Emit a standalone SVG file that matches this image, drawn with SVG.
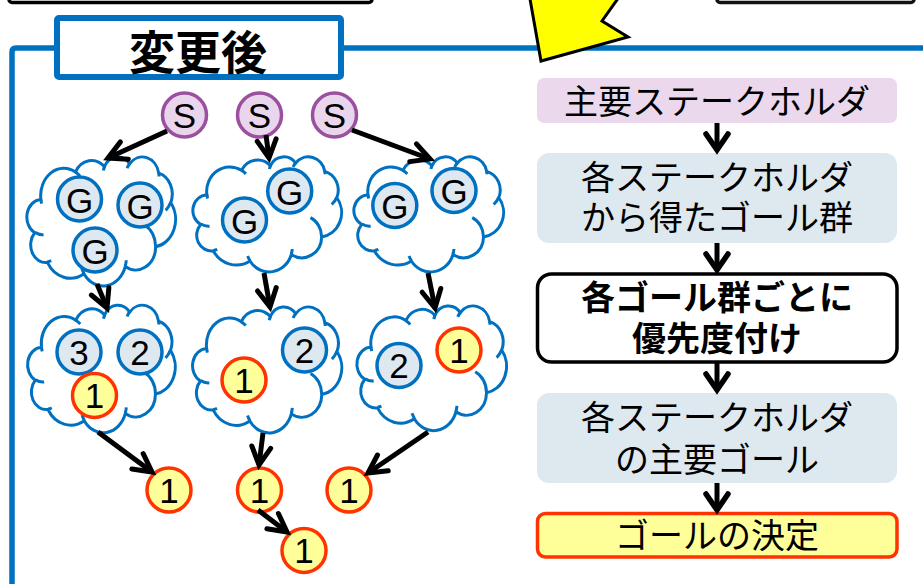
<svg xmlns="http://www.w3.org/2000/svg" width="923" height="584" viewBox="0 0 923 584">
<style>
.cl{fill:#fff;stroke:#0070C0;stroke-width:3;vector-effect:non-scaling-stroke}
.hk{fill:none;stroke:#0070C0;stroke-width:3;vector-effect:non-scaling-stroke}
.g{fill:#DEE8F0;stroke:#0070C0;stroke-width:3.5}
.y{fill:#FFFF99;stroke:#FF3300;stroke-width:3.5}
.s{fill:#EAD6EC;stroke:#9B4F9F;stroke-width:3.5}
.lbl{font-family:"Liberation Sans",Arial,sans-serif;font-size:35px;text-anchor:middle;fill:#000}
.jp{font-family:"Liberation Sans","Noto Sans CJK JP","Noto Sans CJK SC",sans-serif;font-size:34px;text-anchor:middle;fill:#000}
.con line{stroke:#000;stroke-width:5;fill:none}
</style>
<defs>
<g id="cloud">
<path class="cl" d="M 90.3 332.6 A 156.3 212.7 0 0 1 324.2 120.4 A 123.5 168.2 0 0 1 519.8 79.4 A 101.0 137.6 0 0 1 690.5 57.4 A 112.4 152.7 0 0 1 886.9 129.0 A 123.5 168.4 0 0 1 968.0 357.8 A 156.8 213.4 0 0 1 865.8 699.1 A 133.9 182.1 0 0 1 660.9 852.1 A 156.3 213.3 0 0 1 381.4 908.8 A 178.7 244.1 0 0 1 134.3 821.0 A 100.9 137.0 0 0 1 48.8 591.3 A 100.6 137.6 0 0 1 90.3 332.6 Z"/>
<path class="hk" d="M 108.6 605.9 A 100.6 137.6 0 0 1 50.0 587.5 M 160.4 807.8 A 100.9 137.0 0 0 1 134.7 816.7 M 381.4 904.9 A 156.3 213.3 0 0 1 366.0 864.6 M 667.3 804.4 A 156.3 213.3 0 0 1 661.1 848.6 M 790.0 531.3 A 133.9 182.1 0 0 1 865.3 696.5 M 967.5 355.4 A 123.5 168.4 0 0 1 934.0 417.4 M 887.1 125.6 A 112.4 152.7 0 0 1 888.9 154.9 M 673.1 91.5 A 112.4 152.7 0 0 1 690.3 54.2 M 512.5 109.3 A 101.0 137.6 0 0 1 520.8 77.1 M 324.1 120.2 A 156.3 212.7 0 0 1 354.2 151.4 M 95.5 365.5 A 156.3 212.7 0 0 1 90.3 332.6"/>
</g>
<marker id="arr" markerUnits="userSpaceOnUse" viewBox="-24 -14 30 28" markerWidth="30" markerHeight="28" refX="0" refY="0" orient="auto" overflow="visible">
<path d="M -18 -9.5 L 0 0 L -18 9.5" fill="none" stroke="#000" stroke-width="5" stroke-linecap="round"/>
</marker>
<marker id="arr2" markerUnits="userSpaceOnUse" viewBox="-24 -16 30 32" markerWidth="30" markerHeight="32" refX="0" refY="0" orient="auto" overflow="visible">
<path d="M -16 -11 L 0 0 L -16 11" fill="none" stroke="#000" stroke-width="5.5" stroke-linecap="round"/>
</marker>
</defs>

<!-- top cut-off boxes -->
<rect x="9" y="-30" width="363" height="32.5" rx="3" fill="#fff" stroke="#000" stroke-width="3.5"/>
<rect x="717" y="-30" width="197" height="32.5" rx="3" fill="#fff" stroke="#111" stroke-width="3.5"/>

<!-- frame -->
<g id="frame">
<path d="M 12 584 L 12 52 Q 12 48 16 48 L 58 48" fill="none" stroke="#0070C0" stroke-width="5.5"/>
<path d="M 342 48 L 923 48" fill="none" stroke="#0070C0" stroke-width="5.5"/>
<rect x="57" y="18" width="284" height="59" rx="2" fill="#fff" stroke="#0070C0" stroke-width="6"/>
<text x="198" y="69" font-family="'Noto Sans CJK JP','Noto Sans CJK SC',sans-serif" font-size="46" font-weight="bold" text-anchor="middle">変更後</text>
</g>

<polygon id="bigArrow" points="528.4,-10 541,61 628,37 602,21 624,-10" fill="#FFFF00" stroke="#000" stroke-width="3" stroke-linejoin="miter"/>

<!-- stakeholders -->
<g id="s1"><circle class="s" cx="184.5" cy="115" r="22"/><text class="lbl" x="184.5" y="128" font-size="36">S</text></g>
<g id="s2"><circle class="s" cx="259.5" cy="115" r="22"/><text class="lbl" x="259.5" y="128" font-size="36">S</text></g>
<g id="s3"><circle class="s" cx="334.5" cy="115" r="22"/><text class="lbl" x="334.5" y="128" font-size="36">S</text></g>

<!-- goal clouds -->
<g id="cloud1">
<use href="#cloud" transform="translate(27.5 156.5) scale(0.148 0.129)"/>
<circle class="g" cx="79.5" cy="199" r="22"/><text class="lbl" x="79.5" y="212.5">G</text>
<circle class="g" cx="140" cy="205" r="22"/><text class="lbl" x="140" y="218.5">G</text>
<circle class="g" cx="95" cy="250" r="22"/><text class="lbl" x="95" y="263.5">G</text>
</g>
<g id="cloud2">
<use href="#cloud" transform="translate(193.5 156.5) scale(0.148 0.115)"/>
<circle class="g" cx="289.7" cy="191" r="22"/><text class="lbl" x="289.7" y="204.5">G</text>
<circle class="g" cx="244.5" cy="220" r="22"/><text class="lbl" x="244.5" y="233.5">G</text>
</g>
<g id="cloud3">
<use href="#cloud" transform="translate(354.5 156.5) scale(0.149 0.115)"/>
<circle class="g" cx="394.8" cy="205.5" r="22"/><text class="lbl" x="394.8" y="219">G</text>
<circle class="g" cx="454" cy="190.5" r="22"/><text class="lbl" x="454" y="204">G</text>
</g>

<!-- prioritised clouds -->
<g id="cloud4">
<use href="#cloud" transform="translate(28.2 304.8) scale(0.147 0.1275)"/>
<circle class="g" cx="79" cy="352" r="22"/><text class="lbl" x="79" y="364.5">3</text>
<circle class="g" cx="140" cy="352" r="22"/><text class="lbl" x="140" y="364.5">2</text>
<circle class="y" cx="94.5" cy="395.5" r="22"/><text class="lbl" x="94.5" y="408">1</text>
</g>
<g id="cloud5">
<use href="#cloud" transform="translate(193.2 306.5) scale(0.1485 0.126)"/>
<circle class="g" cx="304.5" cy="350" r="22"/><text class="lbl" x="304.5" y="362.5">2</text>
<circle class="y" cx="244" cy="380" r="22"/><text class="lbl" x="244" y="392.5">1</text>
</g>
<g id="cloud6">
<use href="#cloud" transform="translate(357.5 305.5) scale(0.149 0.1247)"/>
<circle class="g" cx="399" cy="365.5" r="22"/><text class="lbl" x="399" y="378">2</text>
<circle class="y" cx="459" cy="350" r="22"/><text class="lbl" x="459" y="362.5">1</text>
</g>

<!-- selected goals -->
<g id="goal1"><circle class="y" cx="169" cy="490" r="22"/><text class="lbl" x="169" y="502.5">1</text></g>
<g id="goal2"><circle class="y" cx="259.5" cy="490" r="22"/><text class="lbl" x="259.5" y="502.5">1</text></g>
<g id="goal3"><circle class="y" cx="349" cy="490" r="22"/><text class="lbl" x="349" y="502.5">1</text></g>
<g id="goal4"><circle class="y" cx="304" cy="550.5" r="22"/><text class="lbl" x="304" y="563">1</text></g>

<!-- right flow -->
<g id="box1"><rect x="537" y="78" width="360" height="45" rx="7" fill="#EBD8EC"/><text class="jp" x="717" y="114">主要ステークホルダ</text></g>
<g id="box2"><rect x="537" y="153" width="360" height="90" rx="12" fill="#DEE8EF"/><text class="jp"><tspan x="717" y="190">各ステークホルダ</tspan><tspan x="717" y="230">から得たゴール群</tspan></text></g>
<g id="box3"><rect x="537.5" y="274" width="359.5" height="88" rx="14" fill="#fff" stroke="#000" stroke-width="3.5"/><text class="jp" font-size="35" font-weight="bold"><tspan x="717" y="310">各ゴール群ごとに</tspan><tspan x="717" y="351">優先度付け</tspan></text></g>
<g id="box4"><rect x="537" y="393" width="360" height="90" rx="12" fill="#DEE8EF"/><text class="jp"><tspan x="717" y="430">各ステークホルダ</tspan><tspan x="717" y="472">の主要ゴール</tspan></text></g>
<g id="box5"><rect x="537.5" y="513.5" width="359.5" height="43.5" rx="8" fill="#FFFF99" stroke="#FF3300" stroke-width="3.5"/><text class="jp" x="717" y="548">ゴールの決定</text></g>

<!-- connectors -->
<g id="connectors" class="con">
<line x1="167" y1="131" x2="108" y2="158" marker-end="url(#arr)"/>
<line x1="266" y1="135" x2="269" y2="158" marker-end="url(#arr)"/>
<line x1="352" y1="130" x2="430" y2="159" marker-end="url(#arr)"/>
<line x1="97" y1="284" x2="107" y2="308" marker-end="url(#arr)"/>
<line x1="264" y1="273" x2="270" y2="307" marker-end="url(#arr)"/>
<line x1="428" y1="273" x2="435" y2="308" marker-end="url(#arr)"/>
<line x1="98" y1="432" x2="152" y2="472" marker-end="url(#arr)"/>
<line x1="263" y1="433" x2="259" y2="465" marker-end="url(#arr)"/>
<line x1="428" y1="432" x2="368" y2="473" marker-end="url(#arr)"/>
<line x1="258" y1="510" x2="287" y2="532" marker-end="url(#arr)"/>
<line x1="717" y1="123" x2="717" y2="150" marker-end="url(#arr2)"/>
<line x1="717" y1="243" x2="717" y2="270" marker-end="url(#arr2)"/>
<line x1="717" y1="362" x2="717" y2="390" marker-end="url(#arr2)"/>
<line x1="717" y1="483" x2="717" y2="510" marker-end="url(#arr2)"/>
</g>
</svg>
